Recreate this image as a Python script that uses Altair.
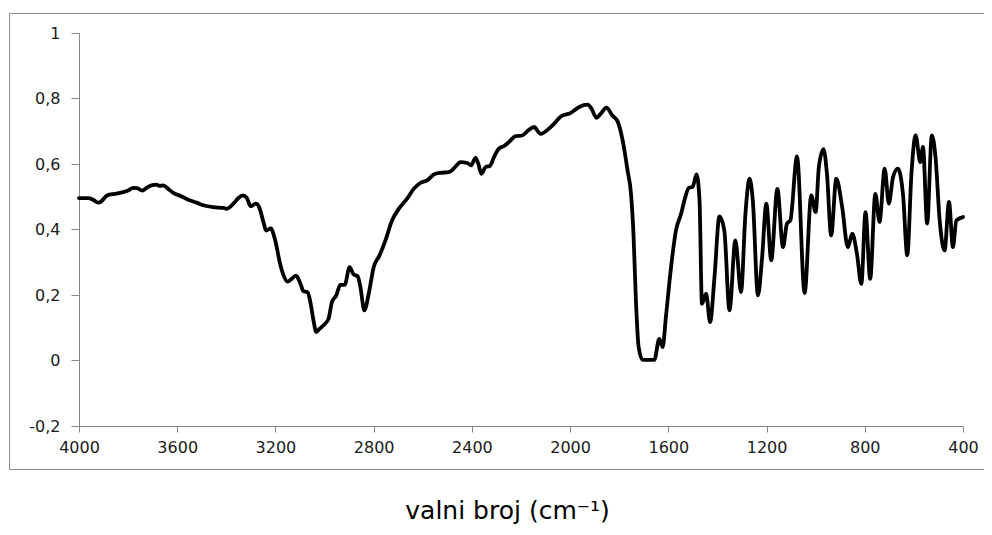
import altair as alt
import pandas as pd

# Wavenumber (cm^-1) and absorbance
wavenumber = [
    4000, 3963, 3943, 3922, 3909, 3886, 3854, 3820, 3800, 3780, 3763, 3742, 3725, 3705,
    3684, 3671, 3657, 3637, 3616, 3582, 3555, 3521, 3494, 3453, 3412, 3399, 3371, 3351,
    3333, 3317, 3301, 3280, 3265, 3249, 3238, 3219, 3201, 3181, 3167, 3151, 3133, 3116,
    3099, 3086, 3069, 3059, 3045, 3034, 3020, 3001, 2984, 2970, 2952, 2936, 2918, 2898,
    2882, 2865, 2854, 2838, 2820, 2800, 2776, 2752, 2725, 2698, 2664, 2637, 2610, 2582,
    2555, 2528, 2494, 2474, 2446, 2419, 2403, 2385, 2374, 2361, 2344, 2327, 2310, 2290,
    2269, 2249, 2222, 2195, 2170, 2147, 2120, 2086, 2065, 2038, 1997, 1963, 1929, 1913,
    1893, 1875, 1852, 1828, 1807, 1786, 1766, 1752, 1742, 1732, 1721, 1705, 1684, 1657,
    1637, 1623, 1610, 1589, 1569, 1548, 1531, 1517, 1501, 1485, 1473, 1463, 1446, 1430,
    1412, 1392, 1372, 1351, 1327, 1304, 1286, 1269, 1256, 1235, 1218, 1201, 1181, 1156,
    1133, 1117, 1103, 1076, 1045, 1018, 1000, 987, 968, 954, 937, 916, 892, 869, 851,
    832, 814, 797, 778, 757, 740, 719, 702, 685, 665, 644, 627, 610, 593, 574, 563, 546,
    527, 512, 495, 475, 457, 441, 427, 400,
]
absorbance = [
    0.496, 0.496, 0.491, 0.482, 0.486, 0.504, 0.509, 0.514, 0.519, 0.527, 0.526, 0.519, 0.527, 0.535,
    0.537, 0.533, 0.535, 0.524, 0.512, 0.501, 0.491, 0.482, 0.474, 0.468, 0.466, 0.463, 0.479, 0.496,
    0.504, 0.497, 0.471, 0.479, 0.466, 0.423, 0.397, 0.403, 0.367, 0.295, 0.260, 0.241, 0.250, 0.259,
    0.236, 0.212, 0.208, 0.183, 0.122, 0.087, 0.097, 0.110, 0.127, 0.178, 0.199, 0.231, 0.231, 0.285,
    0.263, 0.257, 0.224, 0.153, 0.204, 0.285, 0.321, 0.367, 0.428, 0.463, 0.494, 0.524, 0.542, 0.550,
    0.568, 0.573, 0.575, 0.586, 0.606, 0.603, 0.596, 0.619, 0.601, 0.570, 0.591, 0.594, 0.621, 0.647,
    0.655, 0.667, 0.685, 0.687, 0.703, 0.713, 0.692, 0.708, 0.723, 0.745, 0.756, 0.774, 0.781, 0.769,
    0.741, 0.754, 0.772, 0.748, 0.731, 0.672, 0.580, 0.509, 0.387, 0.183, 0.041, 0.002, 0.002, 0.002,
    0.066, 0.041, 0.132, 0.285, 0.397, 0.448, 0.499, 0.527, 0.530, 0.568, 0.489, 0.173, 0.204, 0.117,
    0.255, 0.440, 0.397, 0.153, 0.367, 0.209, 0.448, 0.555, 0.489, 0.199, 0.316, 0.479, 0.306, 0.524,
    0.346, 0.418, 0.428, 0.623, 0.206, 0.504, 0.453, 0.591, 0.645, 0.570, 0.382, 0.555, 0.468, 0.346, 0.387,
    0.326, 0.234, 0.453, 0.249, 0.509, 0.423, 0.586, 0.479, 0.560, 0.586, 0.504, 0.321, 0.570, 0.687, 0.606, 0.652, 0.418,
    0.687, 0.621, 0.428, 0.336, 0.484, 0.346, 0.428, 0.438,
]
x_ticks = [4000, 3600, 3200, 2800, 2400, 2000, 1600, 1200, 800, 400]
y_ticks = [-0.2, 0, 0.2, 0.4, 0.6, 0.8, 1.0]

df = pd.DataFrame({"wn": wavenumber, "a": absorbance})

FONT = "DejaVu Sans"
AXIS_GREY = "#868686"

line = alt.Chart(df).mark_line(
    color="black", strokeWidth=3.8, interpolate="monotone",
    strokeJoin="round", strokeCap="round"
).encode(
    x=alt.X(
        "wn:Q",
        scale=alt.Scale(domain=[400, 4000], reverse=True, nice=False, zero=False),
        axis=alt.Axis(
            values=x_ticks, format="d", grid=False,
            title="valni broj (cm⁻¹)", titleFont=FONT, titleFontSize=25,
            titleFontWeight="normal", titleColor="black",
            titleX=428, titleY=92, titleBaseline="alphabetic", titleAlign="center",
            labelFont=FONT, labelFontSize=16, labelColor="#1a1a1a",
            labelPadding=7, labelFlush=False,
            domainColor=AXIS_GREY, tickColor=AXIS_GREY, tickSize=6,
        ),
    ),
    y=alt.Y(
        "a:Q",
        scale=alt.Scale(domain=[-0.2, 1], nice=False, zero=False),
        axis=alt.Axis(
            values=y_ticks, grid=False, title=None,
            labelExpr="replace(replace(format(datum.value, '.1~f'), '.', ','), '\u2212', '-')",
            labelFont=FONT, labelFontSize=16, labelColor="#1a1a1a",
            labelPadding=11, labelFlush=False,
            domainColor=AXIS_GREY, tickColor=AXIS_GREY, tickSize=8,
        ),
    ),
)

border = alt.Chart(alt.Data(values=[{}])).mark_rect(
    filled=False, stroke="#8c8c8c", strokeWidth=1
).encode(
    x=alt.value(-69.5), x2=alt.value(930),
    y=alt.value(-19.5), y2=alt.value(436.5),
)

chart = alt.layer(border, line).properties(
    width=884, height=393,
    autosize=alt.AutoSizeParams(type="none"),
    padding={"left": 71, "top": 25, "right": 21, "bottom": 101},
    background="white",
).configure_view(strokeWidth=0)

chart.save("out.html", embed_options={"renderer": "svg", "actions": False})
